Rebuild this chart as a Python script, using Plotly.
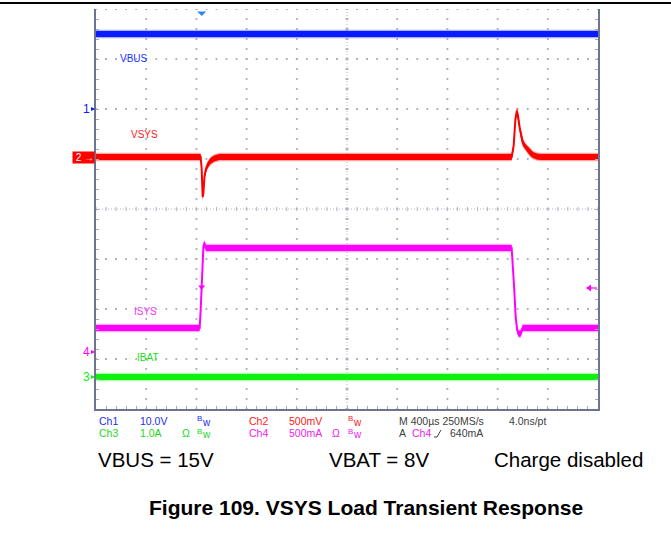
import numpy as np
import plotly.graph_objects as go

# ---- acquisition settings ----
T_DIV_US = 400.0                 # horizontal scale, µs/div
N_HDIV, N_VDIV = 10, 8
T_LEFT_US = -842.0               # time at left edge of screen (trigger at t = 0)
T_RIGHT_US = T_LEFT_US + N_HDIV * T_DIV_US

# channel scales (units/div) and reference positions (div from screen centre)
CH1_SCALE_V, CH1_POS = 10.0, 2.0        # VBUS
CH2_SCALE_MV, CH2_POS = 500.0, 1.04     # VSYS, offset to its DC level
CH3_SCALE_A, CH3_POS = 1.0, -3.36       # IBAT
CH4_SCALE_MA, CH4_POS = 500.0, -2.86    # ISYS
TRIG_LEVEL_MA = 640.0

# ---- waveforms ----
vbus_t_us = [-842, 3158]
vbus_v = [15.0, 15.0]

vsys_t_us = [-842, -8, 0, 8, 14, 22, 32, 48, 70, 100, 140,
             2470, 2486, 2500, 2512, 2522, 2534, 2546, 2560, 2580, 2600, 2620, 2640, 2670, 2700, 3158]
vsys_dev_mv = [0, 0, -120, -400, -360, -200, -130, -80, -40, -15, 0,
               0, 110, 380, 460, 400, 290, 200, 140, 100, 70, 40, 20, 5, 0, 0]

isys_t_us = [-842, -16, -8, 0, 6, 14, 22, 34,
             2470, 2478, 2490, 2502, 2514, 2526, 2542, 2558, 3158]
isys_ma = [240, 240, 420, 640, 880, 1060, 1080, 1040,
           1040, 900, 640, 350, 220, 180, 185, 240, 240]

ibat_t_us = [-842, 3158]
ibat_a = [0.0, 0.0]

# ---- page geometry (pixels) ----
W, H = 671, 539
PX_L, PX_R, PX_T, PX_B = 96, 598, 9, 409


def xp(px):
    return (px - PX_L) / (PX_R - PX_L)


def yp(py):
    return (PX_B - py) / (PX_B - PX_T)


def div_to_paper(d):
    return (d + N_VDIV / 2) / N_VDIV


def us_per_px():
    return (T_RIGHT_US - T_LEFT_US) / (PX_R - PX_L)


def to_div(values, scale, pos):
    return np.asarray(values, float) / scale + pos


FONT = "Liberation Sans, Arial, sans-serif"
GRID = "#a6a9b6"
FRAME = "#6d7490"

BLUE, RED, MAG, GRN = "#0a1cff", "#ff0000", "#ff00ff", "#10f010"

fig = go.Figure()

# ---- graticule dots ----
gx, gy = [], []
for k in range(1, N_HDIV):
    t = T_LEFT_US + k * T_DIV_US
    ys = np.arange(-4, 4.001, 0.2)
    gx += [t] * len(ys)
    gy += list(ys)
for j in range(-3, 5):
    if j == 0:
        continue
    xs = T_LEFT_US + np.arange(0, N_HDIV + 0.001, 0.2) * T_DIV_US
    gx += list(xs)
    gy += [j] * len(xs)
fig.add_trace(go.Scatter(x=gx, y=gy, mode="markers", hoverinfo="skip",
                         marker=dict(symbol="square", size=1.8, color=GRID, line=dict(width=0))))

# centre cross-hair with fine ticks
t_mid = T_LEFT_US + N_HDIV / 2 * T_DIV_US
fig.add_trace(go.Scatter(x=[T_LEFT_US, T_RIGHT_US], y=[0, 0], mode="lines", hoverinfo="skip",
                         line=dict(color="#b4b7c2", width=1, dash="1px,2px")))
fig.add_trace(go.Scatter(x=[t_mid, t_mid], y=[-4, 4], mode="lines", hoverinfo="skip",
                         line=dict(color="#b4b7c2", width=1, dash="1px,2px")))
hx = T_LEFT_US + np.arange(0, N_HDIV + 0.001, 0.2) * T_DIV_US
fig.add_trace(go.Scatter(x=hx, y=[0] * len(hx), mode="markers", hoverinfo="skip",
                         marker=dict(symbol="line-ns", size=3, line=dict(color="#b4b7c2", width=1))))
vy = np.arange(-4, 4.001, 0.2)
fig.add_trace(go.Scatter(x=[t_mid] * len(vy), y=vy, mode="markers", hoverinfo="skip",
                         marker=dict(symbol="line-ew", size=3, line=dict(color="#b4b7c2", width=1))))


# ---- traces drawn as persistence bands ----
def add_band(t, ydiv, color, halo):
    t = np.asarray(t, float)
    y = np.asarray(ydiv, float)
    for hw, col in ((0.085, halo), (0.058, color)):
        fig.add_trace(go.Scatter(
            x=np.concatenate([t, t[::-1]]),
            y=np.concatenate([y + hw, (y - hw)[::-1]]),
            mode="lines", fill="toself", fillcolor=col, line=dict(width=0),
            hoverinfo="skip"))
    fig.add_trace(go.Scatter(x=t, y=y, mode="lines", hoverinfo="skip",
                             line=dict(color=color, width=2)))


add_band(vbus_t_us, to_div(vbus_v, CH1_SCALE_V, CH1_POS), BLUE, "rgba(60,80,255,0.45)")
add_band(vsys_t_us, to_div(vsys_dev_mv, CH2_SCALE_MV, CH2_POS), RED, "rgba(255,60,60,0.45)")
add_band(isys_t_us, to_div(isys_ma, CH4_SCALE_MA, CH4_POS), MAG, "rgba(255,80,255,0.45)")
add_band(ibat_t_us, to_div(ibat_a, CH3_SCALE_A, CH3_POS), GRN, "rgba(80,255,80,0.45)")

# trigger point on the ISYS edge
trig_div = TRIG_LEVEL_MA / CH4_SCALE_MA + CH4_POS
fig.add_trace(go.Scatter(x=[0], y=[trig_div + 0.02], mode="markers", hoverinfo="skip",
                         marker=dict(symbol="triangle-down", size=6, color=MAG)))

# trigger position marker at top of screen
dx = 4.5 * us_per_px()
fig.add_shape(type="path", xref="x", yref="y", layer="above",
              path=f"M {-dx} 3.95 L {dx} 3.95 L 0 3.86 Z",
              fillcolor="#2f86f0", line=dict(width=0))

# trigger level arrow on the right edge
ty = div_to_paper(trig_div)
fig.add_shape(type="line", xref="paper", yref="paper", x0=xp(588), x1=xp(597), y0=ty, y1=ty,
              line=dict(color=MAG, width=1.2))
fig.add_shape(type="path", xref="paper", yref="paper",
              path=f"M {xp(586)} {ty} L {xp(591)} {ty + 3.5 / 400} L {xp(591)} {ty - 3.5 / 400} Z",
              fillcolor=MAG, line=dict(width=0))

ann = []
# trace names
for txt, px, py, col in (("VBUS", 118, 58, "#1a30ff"), ("VSYS", 129, 135, "#ff2020"),
                         ("ISYS", 132, 311, "#ff30ff"), ("IBAT", 135, 357, "#20e020")):
    ann.append(dict(x=xp(px), y=yp(py), xref="paper", yref="paper", text=txt,
                    showarrow=False, xanchor="left", yanchor="middle",
                    font=dict(family=FONT, size=10, color=col)))

# channel reference markers on the left edge
for label, pos, col in (("1", CH1_POS, BLUE), ("4", CH4_POS, MAG), ("3", CH3_POS, GRN)):
    ann.append(dict(x=xp(95), y=div_to_paper(pos), xref="paper", yref="paper",
                    text=label, showarrow=True, ax=-9, ay=0, arrowhead=2,
                    arrowsize=0.8, arrowwidth=1, arrowcolor=col,
                    font=dict(family=FONT, size=12, color=col)))
ann.append(dict(x=xp(95), y=div_to_paper(CH2_POS), xref="paper", yref="paper",
                text=" 2 →", showarrow=False, bgcolor=RED, borderpad=0, xanchor="right",
                font=dict(family=FONT, size=10, color="white")))

# scope status lines
R1, R2 = yp(421), yp(433)
status = [
    ("Ch1", 97, R1, "#1a2ef0"), ("10.0V", 138, R1, "#1a2ef0"),
    ("Ch2", 247, R1, "#ff2020"), ("500mV", 287, R1, "#ff2020"),
    ("M 400µs 250MS/s", 397, R1, "#404040"), ("4.0ns/pt", 507, R1, "#404040"),
    ("Ch3", 97, R2, "#22d822"), ("1.0A", 138, R2, "#22d822"), ("Ω", 180, R2, "#22d822"),
    ("Ch4", 247, R2, "#ee22ee"), ("500mA", 287, R2, "#ee22ee"), ("Ω", 330, R2, "#ee22ee"),
    ("A", 397, R2, "#404040"), ("Ch4", 410, R2, "#ee22ee"), ("640mA", 448, R2, "#404040"),
]
for txt, px, py, col in status:
    ann.append(dict(x=xp(px), y=py, xref="paper", yref="paper", text=txt, showarrow=False,
                    xanchor="left", yanchor="middle", font=dict(family=FONT, size=10.5, color=col)))

# bandwidth-limit flags ("Bw")
for px, py, col in ((195, 421, "#1a2ef0"), (346, 421, "#ff2020"),
                    (195, 433, "#22d822"), (346, 433, "#ee22ee")):
    ann.append(dict(x=xp(px), y=yp(py - 2), xref="paper", yref="paper", text="B",
                    showarrow=False, xanchor="left", yanchor="middle",
                    font=dict(family=FONT, size=8, color=col)))
    ann.append(dict(x=xp(px + 5), y=yp(py + 1), xref="paper", yref="paper", text="w",
                    showarrow=False, xanchor="left", yanchor="middle",
                    font=dict(family=FONT, size=10, color=col)))

# rising-edge trigger symbol
fig.add_shape(type="path", xref="paper", yref="paper",
              path=f"M {xp(434)} {yp(437)} L {xp(437)} {yp(437)} L {xp(441)} {yp(430)}",
              line=dict(color="#404040", width=1))

# conditions and caption
for txt, px in (("VBUS = 15V", 96), ("VBAT = 8V", 327), ("Charge disabled", 492)):
    ann.append(dict(x=xp(px), y=yp(459), xref="paper", yref="paper", text=txt,
                    showarrow=False, xanchor="left", yanchor="middle",
                    font=dict(family=FONT, size=20.5, color="black")))
ann.append(dict(x=xp(365.5), y=yp(507), xref="paper", yref="paper",
                text="<b>Figure 109. VSYS Load Transient Response</b>", showarrow=False,
                xanchor="center", yanchor="middle",
                font=dict(family=FONT, size=21, color="black")))

# page rule at the top
fig.add_shape(type="line", xref="paper", yref="paper", x0=xp(0), x1=xp(W), y0=yp(3), y1=yp(3),
              line=dict(color="black", width=2))

fig.update_layout(
    width=W, height=H,
    margin=dict(l=PX_L, r=W - PX_R, t=PX_T, b=H - PX_B, pad=0),
    paper_bgcolor="white", plot_bgcolor="white",
    showlegend=False, annotations=ann,
    xaxis=dict(range=[T_LEFT_US, T_RIGHT_US], showgrid=False, zeroline=False,
               showticklabels=False, showline=True, linecolor=FRAME, linewidth=2,
               mirror=False, ticks="inside", ticklen=3, tickcolor=GRID,
               tick0=T_LEFT_US, dtick=T_DIV_US / 5, fixedrange=True),
    yaxis=dict(range=[-N_VDIV / 2, N_VDIV / 2], showgrid=False, zeroline=False,
               showticklabels=False, showline=True, linecolor=FRAME, linewidth=2,
               mirror="ticks", ticks="inside", ticklen=3, tickcolor=GRID,
               tick0=0, dtick=0.2, fixedrange=True),
)

fig.write_html("out.html")
